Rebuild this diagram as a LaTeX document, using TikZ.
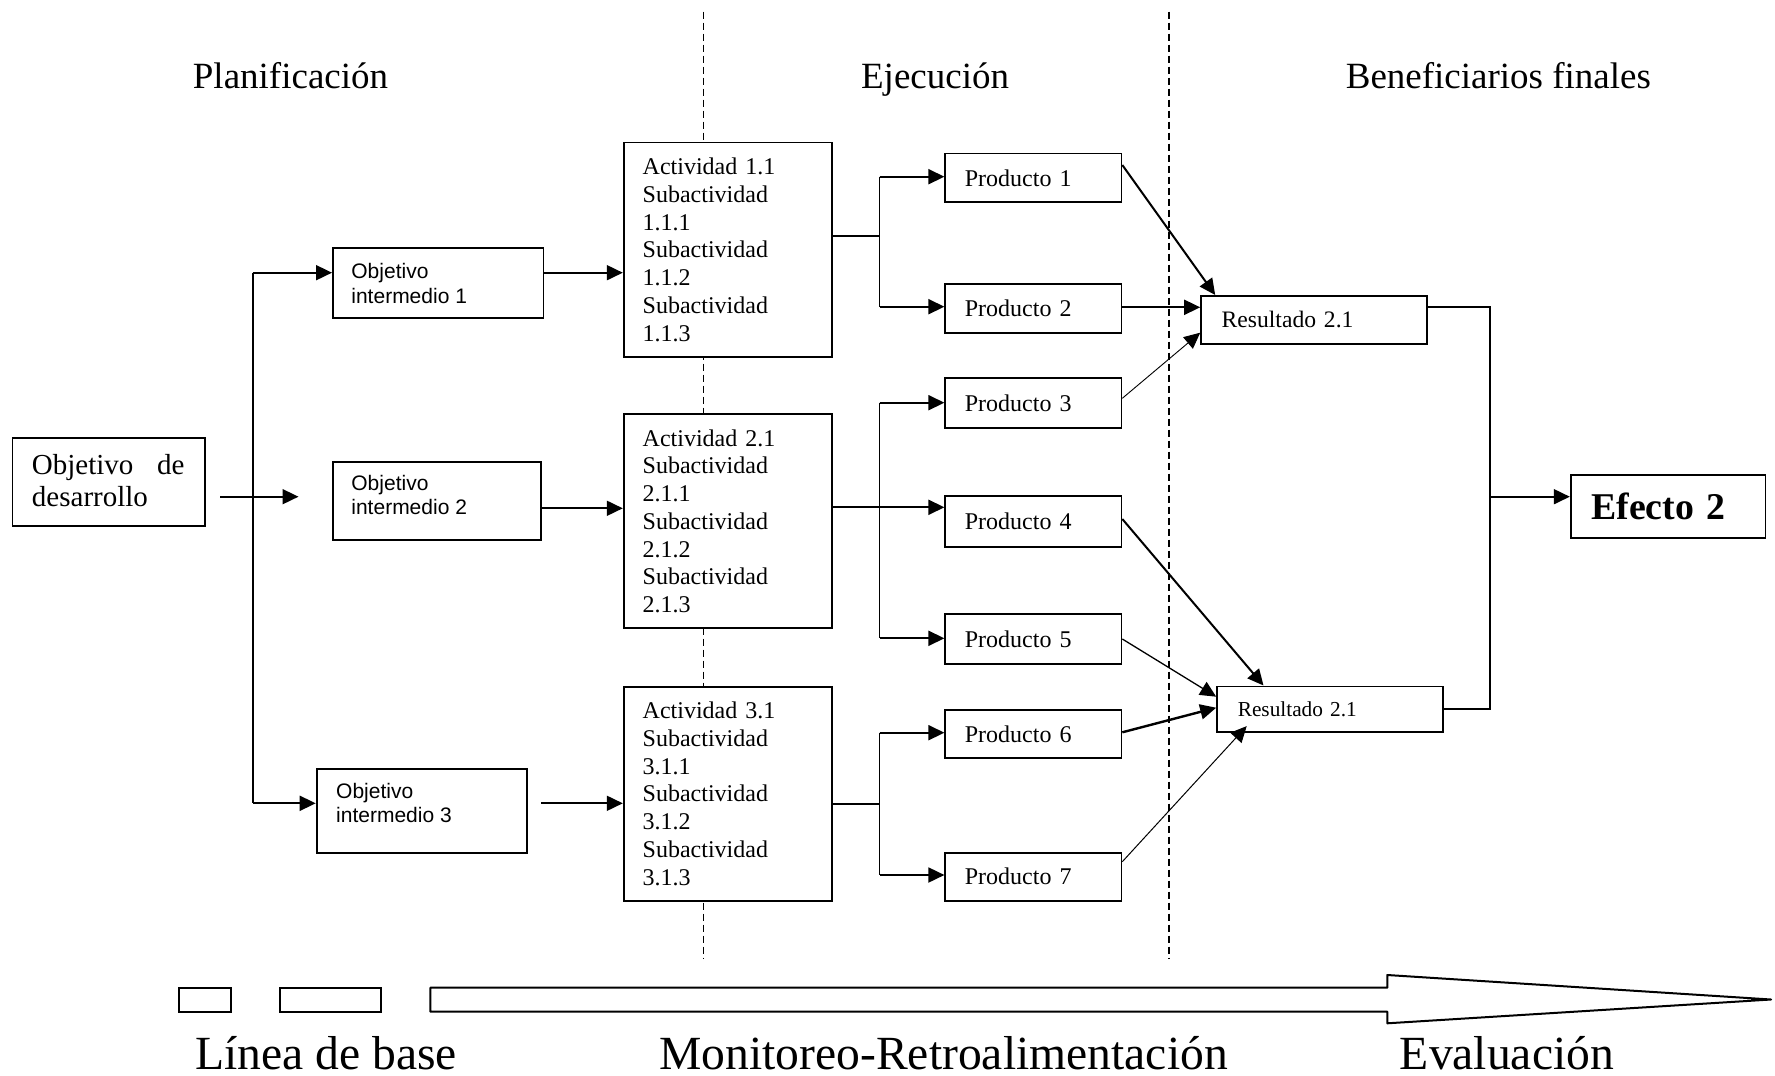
\documentclass[tikz,border=0pt]{standalone}
\usepackage{fontspec}
\setmainfont{Liberation Serif}
\setsansfont{Liberation Sans}
\usetikzlibrary{arrows.meta,calc}

\newcommand{\txtA}{\fontsize{12}{13.85}\selectfont}

\begin{document}
\begin{tikzpicture}[x=0.5pt,y=-0.5pt,
  frame/.style={draw, line width=0.9pt, fill=white, inner ysep=0pt, anchor=north west, align=left},
  dims/.style 2 args={minimum width={#1*0.5pt}, minimum height={#2*0.5pt}},
  actbox/.style={frame, text width=85pt, inner xsep=9.5pt, font=\txtA},
  prodbox/.style={frame, text width=68.5pt, inner xsep=9.75pt, font=\txtA},
  oitext/.style={anchor=north west, inner sep=0pt, align=left, font=\sffamily\fontsize{10.5}{12.3}\selectfont},
  hdr/.style={anchor=base west, inner sep=0pt, font=\fontsize{18.5}{21}\selectfont},
  foot/.style={anchor=base west, inner sep=0pt, font=\fontsize{23.8}{27}\selectfont},
  conn/.style={line width=0.9pt},
  arr/.style={-{Triangle[length=8pt,width=7.5pt]}, line width=0.9pt},
  dashline/.style={line width=0.7pt, dash pattern=on 3.5pt off 2pt},
]
\useasboundingbox (0,0) rectangle (1775,1075);

% phase separators
\draw[dashline] (703.2,11.7) -- (703.2,958);
\draw[dashline] (1169,11.7) -- (1169,958);

% phase headings
\node[hdr] (h1) at (192.5,88.3) {Planificación};
\node[hdr] (h2) at (860.7,88.3) {Ejecución};
\node[hdr] (h3) at (1345.4,88.3) {Beneficiarios finales};

% development objective
\node[frame, dims={192.5}{88}] (od) at (11.5,437) {};
\node[anchor=north west, inner sep=0pt, align=left, font=\fontsize{14.5}{15.65}\selectfont] (odt) at (31.6,454.3)
  {\makebox[76.2pt][l]{Objetivo\hfill de}\\desarrollo};

% intermediate objectives
\node[frame, dims={210.5}{70.6}] (oi1) at (332,246.7) {};
\node[oitext] (oi1t) at (351,263) {Objetivo\\intermedio 1};
\node[frame, dims={208}{78}] (oi2) at (332,461) {};
\node[oitext] (oi2t) at (351,474.7) {Objetivo\\intermedio 2};
\node[frame, dims={210.7}{84}] (oi3) at (315.7,767.7) {};
\node[oitext] (oi3t) at (335.8,782.7) {Objetivo\\intermedio 3};

% activities
\node[actbox, dims={208}{214.3}] (act1) at (622.8,141.7)
  {Actividad 1.1\\Subactividad\\1.1.1\\Subactividad\\1.1.2\\Subactividad\\1.1.3};
\node[actbox, dims={208}{214}] (act2) at (622.8,413.3)
  {Actividad 2.1\\Subactividad\\2.1.1\\Subactividad\\2.1.2\\Subactividad\\2.1.3};
\node[actbox, dims={208}{214.3}] (act3) at (622.8,685.7)
  {Actividad 3.1\\Subactividad\\3.1.1\\Subactividad\\3.1.2\\Subactividad\\3.1.3};

% products
\node[prodbox, dims={176.1}{48.6}] (p1) at (944.4,152.7) {Producto 1};
\node[prodbox, dims={176.1}{48.4}] (p2) at (944.4,283.3) {Producto 2};
\node[prodbox, dims={176.1}{50}]   (p3) at (944.4,377.3) {Producto 3};
\node[prodbox, dims={176.1}{50.5}] (p4) at (944.4,495.3) {Producto 4};
\node[prodbox, dims={176.1}{50}]   (p5) at (944.4,613.3) {Producto 5};
\node[prodbox, dims={176.1}{48}]   (p6) at (944.4,709.3) {Producto 6};
\node[prodbox, dims={176.1}{48.3}] (p7) at (944.4,851.7) {Producto 7};

% results and effect
\node[frame, dims={226.2}{48}, text width=92.5pt, inner xsep=10.25pt, font=\fontsize{11.8}{13.6}\selectfont]
  (r1) at (1200.2,295) {Resultado 2.1};
\node[frame, dims={226.1}{45.8}, text width=92.4pt, inner xsep=10.35pt, font=\fontsize{10.65}{12.3}\selectfont]
  (r2) at (1216.2,685.5) {Resultado 2.1};
\node[frame, dims={194.7}{63.3}, text width=76.8pt, inner xsep=10.3pt, font=\bfseries\fontsize{18.9}{21}\selectfont]
  (e) at (1569.8,474) {Efecto 2};

% development objective towards intermediate objectives
\coordinate (d0) at (220,496.7);
\coordinate (d1) at (298.5,496.7);
\draw[arr] (d0) -- (d1);
\coordinate (t1) at (252.6,272.7);
\coordinate (t3) at (252.6,803.3);
\draw[conn] (t1) -- (t3);
\draw[arr] (t1) -- (t1 -| oi1.west);
\draw[arr] (t3) -- (t3 -| oi3.west);

% intermediate objectives towards activities
\draw[arr] (oi1.east |- t1) -- (act1.west |- t1);
\coordinate (y2) at (0,508.3);
\draw[arr] (oi2.east |- y2) -- (act2.west |- y2);
\coordinate (o3) at (541.3,803.3);
\draw[arr] (o3) -- (act3.west |- o3);

% activity 1 branches
\coordinate (j1) at (879.5,236);
\coordinate (j1a) at (879.5,176.7);
\coordinate (j1b) at (879.5,306.7);
\draw[conn] (act1.east |- j1) -- (j1);
\draw[conn] (j1a) -- (j1b);
\draw[arr] (j1a) -- (j1a -| p1.west);
\draw[arr] (j1b) -- (j1b -| p2.west);

% activity 2 branches
\coordinate (j2) at (879.5,507.3);
\coordinate (j2a) at (879.5,402.7);
\coordinate (j2c) at (879.5,638.3);
\draw[conn] (j2a) -- (j2c);
\draw[arr] (act2.east |- j2) -- (j2 -| p4.west);
\draw[arr] (j2a) -- (j2a -| p3.west);
\draw[arr] (j2c) -- (j2c -| p5.west);

% activity 3 branches
\coordinate (j3) at (879.5,804);
\coordinate (j3a) at (879.5,732.7);
\coordinate (j3b) at (879.5,875);
\draw[conn] (act3.east |- j3) -- (j3);
\draw[conn] (j3a) -- (j3b);
\draw[arr] (j3a) -- (j3a -| p6.west);
\draw[arr] (j3b) -- (j3b -| p7.west);

% products towards results
\draw[arr, line width=1pt]  (p1.east |- 0,165)   -- ($(r1.north west)+(15,0)$);
\draw[arr]                  (p2.east |- 0,307.3) -- (r1.west |- 0,307.3);
\draw[arr, line width=0.45pt] (p3.east |- 0,398.3) -- (r1.west |- 0,332.7);
\draw[arr, line width=1pt]  (p4.east |- 0,519)   -- ($(r2.north west)+(47.3,0)$);
\draw[arr, line width=0.65pt] (p5.east |- 0,639) -- (r2.west |- 0,696.7);
\draw[arr, line width=1.2pt] (p6.east |- 0,732.3) -- (r2.west |- 0,707.7);
\draw[arr, line width=0.5pt] (p7.east |- 0,861.7) -- ($(r2.south west)+(30.5,-7)$);

% results towards effect
\coordinate (bus1) at (1490.1,307.3);
\coordinate (bus2) at (1490.1,709.3);
\coordinate (be) at (1490.1,496.7);
\draw[conn] (r1.east |- bus1) -- (bus1) -- (bus2) -- (r2.east |- bus2);
\draw[arr] (be) -- (e.west |- be);

% time line
\draw[line width=1pt] (179,987.7) rectangle (231,1011.7);
\draw[line width=1pt] (279.7,987.7) rectangle (380.5,1011.7);
\draw[line width=1pt, line join=round]
  (430.3,987.7) -- (1387.3,987.7) -- (1387.3,975) -- (1771,999.5)
  -- (1387.3,1023.3) -- (1387.3,1011.7) -- (430.3,1011.7) -- cycle;

\node[foot] (f1) at (194.8,1069) {Línea de base};
\node[foot] (f2) at (659,1069) {Monitoreo-Retroalimentación};
\node[foot] (f3) at (1399.5,1069) {Evaluación};
\end{tikzpicture}
\end{document}
